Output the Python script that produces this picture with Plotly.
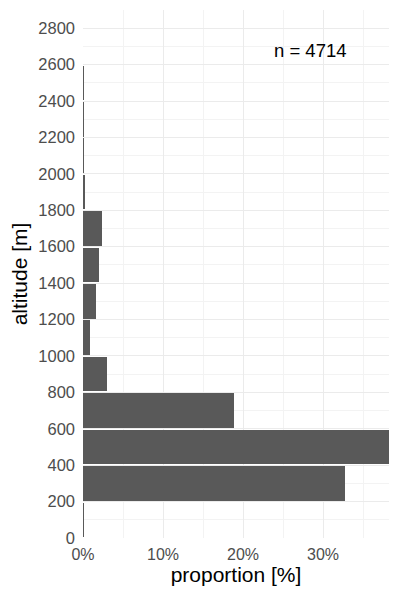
import plotly.graph_objects as go

bin_start = [0, 200, 400, 600, 800, 1000, 1200, 1400, 1600, 1800, 2000, 2200, 2400]
proportion = [0.1, 32.75, 38.3, 18.9, 3.0, 0.9, 1.6, 2.0, 2.4, 0.25, 0.04, 0.12, 0.04]
bin_width = 200
n_label = "n = 4714"
x_ticks = [0, 10, 20, 30]
x_tick_labels = ["0%", "10%", "20%", "30%"]

centers = [b + bin_width / 2 for b in bin_start]

fig = go.Figure()
fig.add_trace(go.Bar(
    x=proportion, y=centers, orientation="h",
    width=[bin_width * 0.95] * len(centers),
    marker=dict(color="#595959", line=dict(width=0)),
    hoverinfo="skip",
))

fig.add_annotation(x=28.4, y=2680, text=n_label, showarrow=False,
                   font=dict(size=18.5, color="black"), xanchor="center", yanchor="middle")

fig.update_layout(
    width=400, height=600,
    margin=dict(l=75, r=19, t=2, b=70),
    plot_bgcolor="white", paper_bgcolor="white",
    font=dict(family="Liberation Sans, Arial, sans-serif"),
    showlegend=False,
    bargap=0,
    xaxis=dict(
        range=[0, 38.25], automargin=False,
        tickvals=x_ticks, ticktext=x_tick_labels,
        showgrid=True, gridcolor="#ebebeb", gridwidth=1.2,
        minor=dict(tickvals=[5, 15, 25, 35], showgrid=True, gridcolor="#f3f3f3", gridwidth=0.6),
        zeroline=False, showline=False, ticks="",
        ticklabelstandoff=5,
        tickfont=dict(size=16, color="#4d4d4d"),
        title=dict(text="proportion [%]", font=dict(size=21, color="black"), standoff=4),
    ),
    yaxis=dict(
        range=[0, 2900], automargin=False,
        tickvals=list(range(0, 2801, 200)),
        showgrid=True, gridcolor="#ebebeb", gridwidth=1.2,
        minor=dict(tickvals=list(range(100, 2901, 200)), showgrid=True, gridcolor="#f3f3f3", gridwidth=0.6),
        zeroline=False, showline=False, ticks="",
        ticklabelstandoff=7,
        tickfont=dict(size=16.5, color="#4d4d4d"),
        title=dict(text="altitude [m]", font=dict(size=21, color="black"), standoff=4),
    ),
)

fig.write_html("out.html")
